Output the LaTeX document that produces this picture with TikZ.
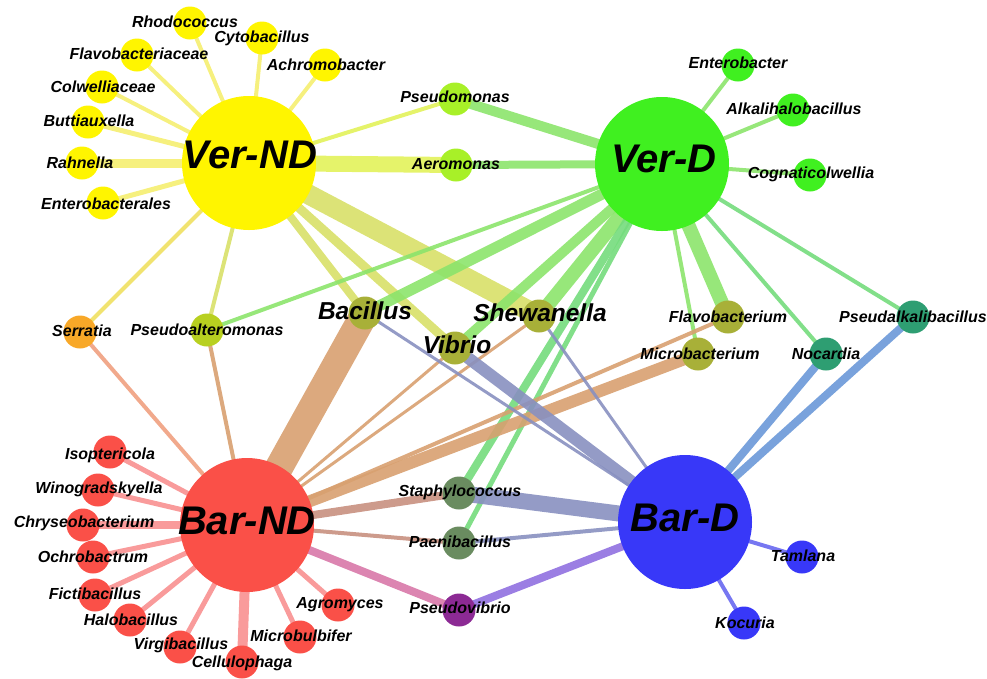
\documentclass[tikz,border=0pt]{standalone}
\usepackage{fontspec}
\setmainfont{Liberation Sans}
\usetikzlibrary{backgrounds}
\definecolor{cY}{HTML}{FFF500}
\definecolor{cG}{HTML}{40F020}
\definecolor{cR}{HTML}{FA5048}
\definecolor{cB}{HTML}{3838F8}
\definecolor{cYG}{HTML}{A8F028}
\definecolor{cOr}{HTML}{F8A828}
\definecolor{cPsa}{HTML}{B8D020}
\definecolor{cOl}{HTML}{A8B038}
\definecolor{cTeal}{HTML}{2E9E72}
\definecolor{cGG}{HTML}{6A8C60}
\definecolor{cPur}{HTML}{8C2A94}
% edge colours
\definecolor{eY}{HTML}{F5EE70}
\definecolor{eYG}{HTML}{E2F25A}
\definecolor{eYO}{HTML}{F0E060}
\definecolor{eYol}{HTML}{D8E068}
\definecolor{eG}{HTML}{8CE46C}
\definecolor{eGt}{HTML}{74DC7C}
\definecolor{eR}{HTML}{F89090}
\definecolor{eRO}{HTML}{F0A080}
\definecolor{eT}{HTML}{D8A070}
\definecolor{eRB}{HTML}{C89080}
\definecolor{ePk}{HTML}{D878A8}
\definecolor{eGB}{HTML}{8890C0}
\definecolor{eBP}{HTML}{9070E0}
\definecolor{eBT}{HTML}{6A98D8}
\definecolor{eBB}{HTML}{6868F0}
\begin{document}
\begin{tikzpicture}[x=1pt,y=-1pt,
 hubc/.style={circle, minimum size=134pt, inner sep=0pt},
 sm/.style={circle, minimum size=33pt, inner sep=0pt},
 lab/.style={font=\bfseries\itshape\fontsize{16}{18}\selectfont, inner sep=0pt},
 biglab/.style={font=\bfseries\itshape\fontsize{24.5}{28}\selectfont, inner sep=0pt},
 hublab/.style={font=\bfseries\itshape\fontsize{40}{44}\selectfont, inner sep=0pt},
 ed/.style={line cap=butt, opacity=0.9}]
\useasboundingbox (0,0) rectangle (987,678);
% hubs
\node[hubc, fill=cY] (vnd) at (249,163) {};
\node[hubc, fill=cG] (vd) at (662,164) {};
\node[hubc, fill=cR] (bnd) at (247,525) {};
\node[hubc, fill=cB] (bd) at (685,522) {};
% Ver-ND cluster
\node[sm, fill=cY] (rho) at (190,23) {};
\node[sm, fill=cY] (cyt) at (262,38) {};
\node[sm, fill=cY] (ach) at (325,65) {};
\node[sm, fill=cY] (flc) at (137,55) {};
\node[sm, fill=cY] (col) at (102,87) {};
\node[sm, fill=cY] (but) at (88,122) {};
\node[sm, fill=cY] (rah) at (82,163) {};
\node[sm, fill=cY] (ent) at (103,203) {};
% shared top
\node[sm, fill=cYG] (pse) at (455,99) {};
\node[sm, fill=cYG] (aer) at (456,165) {};
% Ver-D cluster
\node[sm, fill=cG] (etb) at (738,65) {};
\node[sm, fill=cG] (alk) at (793,110) {};
\node[sm, fill=cG] (cog) at (810,175) {};
% middle row
\node[sm, fill=cOr] (ser) at (80,332) {};
\node[sm, fill=cPsa] (psa) at (207,330) {};
\node[sm, fill=cOl] (bac) at (365,313) {};
\node[sm, fill=cOl] (vib) at (455,348) {};
\node[sm, fill=cOl] (she) at (539,316) {};
\node[sm, fill=cOl] (flb) at (728,317) {};
\node[sm, fill=cOl] (mic) at (698,354) {};
\node[sm, fill=cTeal] (noc) at (826,354) {};
\node[sm, fill=cTeal] (pak) at (913,317) {};
% Bar-ND cluster
\node[sm, fill=cR] (iso) at (110,452) {};
\node[sm, fill=cR] (win) at (98,490) {};
\node[sm, fill=cR] (chr) at (83,525) {};
\node[sm, fill=cR] (och) at (93,557) {};
\node[sm, fill=cR] (fic) at (95,595) {};
\node[sm, fill=cR] (hal) at (130,620) {};
\node[sm, fill=cR] (vir) at (180,647) {};
\node[sm, fill=cR] (cel) at (242,662) {};
\node[sm, fill=cR] (mib) at (300,637) {};
\node[sm, fill=cR] (agr) at (338,605) {};
% bottom middle
\node[sm, fill=cGG] (sta) at (459,493) {};
\node[sm, fill=cGG] (pae) at (459,543) {};
\node[sm, fill=cPur] (psv) at (459,610) {};
% Bar-D cluster
\node[sm, fill=cB] (tam) at (802,557) {};
\node[sm, fill=cB] (koc) at (744,623) {};

\begin{pgfonlayer}{background}
% Ver-ND edges
\draw[ed, line width=4pt, eY] (vnd.center) -- (rho.center);
\draw[ed, line width=4pt, eY] (vnd.center) -- (cyt.center);
\draw[ed, line width=4pt, eY] (vnd.center) -- (ach.center);
\draw[ed, line width=4pt, eY] (vnd.center) -- (flc.center);
\draw[ed, line width=4pt, eY] (vnd.center) -- (col.center);
\draw[ed, line width=5pt, eY] (vnd.center) -- (but.center);
\draw[ed, line width=9pt, eY] (vnd.center) -- (rah.center);
\draw[ed, line width=5pt, eY] (vnd.center) -- (ent.center);
\draw[ed, line width=4pt, eYG] (vnd.center) -- (pse.center);
\draw[ed, line width=16pt, eYG] (vnd.center) -- (aer.center);
\draw[ed, line width=4pt, eYO] (vnd.center) -- (ser.center);
\draw[ed, line width=4pt, eYol] (vnd.center) -- (psa.center);
\draw[ed, line width=8pt, eYol] (vnd.center) -- (bac.center);
\draw[ed, line width=9pt, eYol] (vnd.center) -- (vib.center);
\draw[ed, line width=20pt, eYol] (vnd.center) -- (she.center);
% Ver-D edges
\draw[ed, line width=10pt, eG] (vd.center) -- (pse.center);
\draw[ed, line width=8pt, eG] (vd.center) -- (aer.center);
\draw[ed, line width=4pt, eG] (vd.center) -- (etb.center);
\draw[ed, line width=4pt, eG] (vd.center) -- (alk.center);
\draw[ed, line width=4pt, eG] (vd.center) -- (cog.center);
\draw[ed, line width=4pt, eG] (vd.center) -- (psa.center);
\draw[ed, line width=11pt, eG] (vd.center) -- (bac.center);
\draw[ed, line width=10pt, eG] (vd.center) -- (vib.center);
\draw[ed, line width=14pt, eG] (vd.center) -- (she.center);
\draw[ed, line width=14pt, eG] (vd.center) -- (flb.center);
\draw[ed, line width=4pt, eG] (vd.center) -- (mic.center);
\draw[ed, line width=4pt, eGt] (vd.center) -- (noc.center);
\draw[ed, line width=4pt, eGt] (vd.center) -- (pak.center);
\draw[ed, line width=8pt, eGt] (vd.center) -- (sta.center);
\draw[ed, line width=5pt, eGt] (vd.center) -- (pae.center);
% Bar-ND edges
\draw[ed, line width=5pt, eR] (bnd.center) -- (iso.center);
\draw[ed, line width=5pt, eR] (bnd.center) -- (win.center);
\draw[ed, line width=8pt, eR] (bnd.center) -- (chr.center);
\draw[ed, line width=5pt, eR] (bnd.center) -- (och.center);
\draw[ed, line width=5pt, eR] (bnd.center) -- (fic.center);
\draw[ed, line width=5pt, eR] (bnd.center) -- (hal.center);
\draw[ed, line width=5pt, eR] (bnd.center) -- (vir.center);
\draw[ed, line width=10pt, eR] (bnd.center) -- (cel.center);
\draw[ed, line width=5pt, eR] (bnd.center) -- (mib.center);
\draw[ed, line width=5pt, eR] (bnd.center) -- (agr.center);
\draw[ed, line width=4pt, eRO] (bnd.center) -- (ser.center);
\draw[ed, line width=4pt, eT] (bnd.center) -- (psa.center);
\draw[ed, line width=28pt, eT] (bnd.center) -- (bac.center);
\draw[ed, line width=3pt, eT] (bnd.center) -- (vib.center);
\draw[ed, line width=3pt, eT] (bnd.center) -- (she.center);
\draw[ed, line width=4pt, eT] (bnd.center) -- (flb.center);
\draw[ed, line width=12pt, eT] (bnd.center) -- (mic.center);
\draw[ed, line width=8pt, eRB] (bnd.center) -- (sta.center);
\draw[ed, line width=4pt, eRB] (bnd.center) -- (pae.center);
\draw[ed, line width=8pt, ePk] (bnd.center) -- (psv.center);
% Bar-D edges
\draw[ed, line width=3pt, eGB] (bd.center) -- (bac.center);
\draw[ed, line width=12pt, eGB] (bd.center) -- (vib.center);
\draw[ed, line width=3pt, eGB] (bd.center) -- (she.center);
\draw[ed, line width=16pt, eGB] (bd.center) -- (sta.center);
\draw[ed, line width=4pt, eGB] (bd.center) -- (pae.center);
\draw[ed, line width=8pt, eBP] (bd.center) -- (psv.center);
\draw[ed, line width=8pt, eBT] (bd.center) -- (noc.center);
\draw[ed, line width=8pt, eBT] (bd.center) -- (pak.center);
\draw[ed, line width=4pt, eBB] (bd.center) -- (tam.center);
\draw[ed, line width=4pt, eBB] (bd.center) -- (koc.center);
\end{pgfonlayer}

% labels
\node[hublab] (vndL) at (250,155) {Ver-ND};
\node[hublab] (vdL) at (664,159) {Ver-D};
\node[hublab] (bndL) at (247,521) {Bar-ND};
\node[hublab] (bdL) at (685,518) {Bar-D};
\node[lab] (rhoL) at (185,22) {Rhodococcus};
\node[lab] (cytL) at (262,38) {Cytobacillus};
\node[lab] (achL) at (326,65) {Achromobacter};
\node[lab] (flcL) at (139,54) {Flavobacteriaceae};
\node[lab] (colL) at (103,87) {Colwelliaceae};
\node[lab] (butL) at (89,121) {Buttiauxella};
\node[lab] (rahL) at (80,163) {Rahnella};
\node[lab] (entL) at (106,204) {Enterobacterales};
\node[lab] (pseL) at (455,97) {Pseudomonas};
\node[lab] (aerL) at (456,164) {Aeromonas};
\node[lab] (etbL) at (738,63) {Enterobacter};
\node[lab] (alkL) at (794,109) {Alkalihalobacillus};
\node[lab] (cogL) at (811,174) {Cognaticolwellia};
\node[lab] (serL) at (82,331) {Serratia};
\node[lab] (psaL) at (207,330) {Pseudoalteromonas};
\node[biglab] (bacL) at (365,311) {Bacillus};
\node[biglab] (vibL) at (457,345) {Vibrio};
\node[biglab] (sheL) at (540,313) {Shewanella};
\node[lab] (flbL) at (728,317) {Flavobacterium};
\node[lab] (micL) at (700,354) {Microbacterium};
\node[lab] (nocL) at (826,354) {Nocardia};
\node[lab] (pakL) at (913,317) {Pseudalkalibacillus};
\node[lab] (isoL) at (110,455) {Isoptericola};
\node[lab] (winL) at (99,489) {Winogradskyella};
\node[lab] (chrL) at (84,523) {Chryseobacterium};
\node[lab] (ochL) at (93,557) {Ochrobactrum};
\node[lab] (ficL) at (95,594) {Fictibacillus};
\node[lab] (halL) at (131,620) {Halobacillus};
\node[lab] (virL) at (181,645) {Virgibacillus};
\node[lab] (celL) at (242,663) {Cellulophaga};
\node[lab] (mibL) at (301,636) {Microbulbifer};
\node[lab] (agrL) at (340,605) {Agromyces};
\node[lab] (staL) at (460,492) {Staphylococcus};
\node[lab] (paeL) at (460,542) {Paenibacillus};
\node[lab] (psvL) at (460,608) {Pseudovibrio};
\node[lab] (tamL) at (803,556) {Tamlana};
\node[lab] (kocL) at (745,623) {Kocuria};
\end{tikzpicture}
\end{document}
